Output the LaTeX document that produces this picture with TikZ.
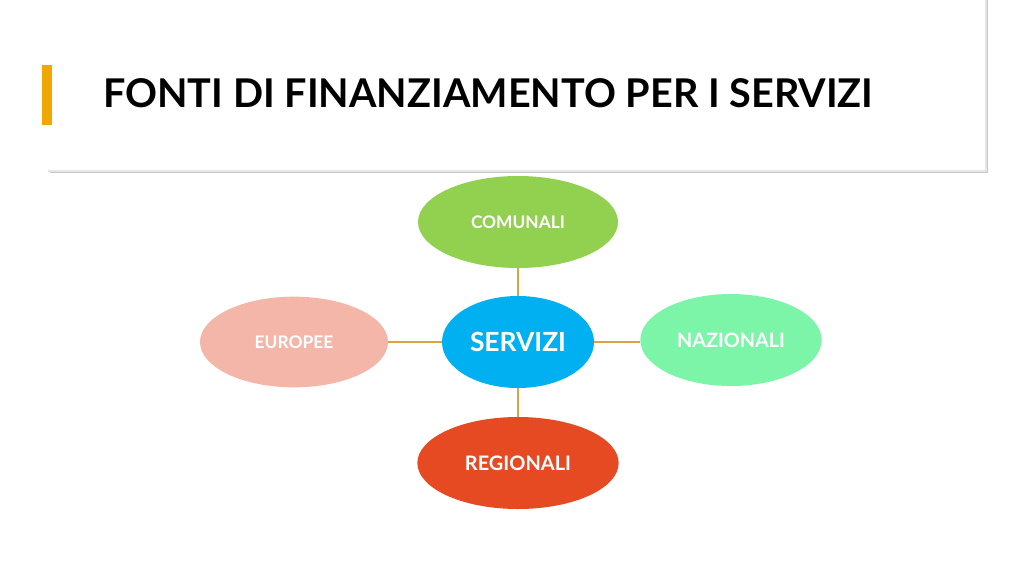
\documentclass[tikz,border=0pt]{standalone}
\usepackage{fontspec}
\setmainfont{Lato}
\usetikzlibrary{shapes.geometric}
\definecolor{cgreen}{HTML}{92D050}
\definecolor{cblue}{HTML}{00B0F0}
\definecolor{cpink}{HTML}{F4B6A8}
\definecolor{cmint}{HTML}{7CF5A8}
\definecolor{cred}{HTML}{E64A22}
\definecolor{cline}{HTML}{D9A441}
\definecolor{cbar}{HTML}{F0A800}
\newcommand{\fitw}[2]{\resizebox{#1pt}{!}{\bfseries #2}}
\tikzset{
  bubble/.style={ellipse, draw=none, fill=#1, inner sep=0pt, text=white},
  link/.style={draw=cline, line width=0.8pt},
}
\begin{document}
\begin{tikzpicture}[x=0.75pt,y=-0.75pt]
\useasboundingbox (0,0) rectangle (1024,576);
\fill[white] (0,0) rectangle (1024,576);
% header panel with shadow
\fill[black!22] (50,-5) rectangle (988,173);
\fill[black!10] (48,-5) rectangle (987,172);
\fill[white] (47,-5) rectangle (985,170);
\fill[cbar] (42,65) rectangle (52,125);
\node[anchor=west, inner sep=0pt] (title) at (103,93) {\fitw{577.5}{FONTI DI FINANZIAMENTO PER I SERVIZI}};
% bubbles
\node[bubble=cgreen, minimum width=150pt, minimum height=69pt] (com) at (518,222) {\fitw{70.5}{COMUNALI}};
\node[bubble=cblue, minimum width=114pt, minimum height=69pt] (ser) at (518,342) {\fitw{72}{SERVIZI}};
\node[bubble=cpink, minimum width=141pt, minimum height=68pt] (eur) at (294,342) {\fitw{59}{EUROPEE}};
\node[bubble=cmint, minimum width=136pt, minimum height=69pt] (naz) at (731,340) {\fitw{81}{NAZIONALI}};
\node[bubble=cred, minimum width=151pt, minimum height=69pt] (reg) at (518,463) {\fitw{79.5}{REGIONALI}};
% connectors
\draw[link] (com.south) -- (ser.north);
\draw[link] (eur.east) -- (ser.west);
\draw[link] (ser.east) -- (naz.west |- ser.east);
\draw[link] (ser.south) -- (reg.north);
\end{tikzpicture}
\end{document}
